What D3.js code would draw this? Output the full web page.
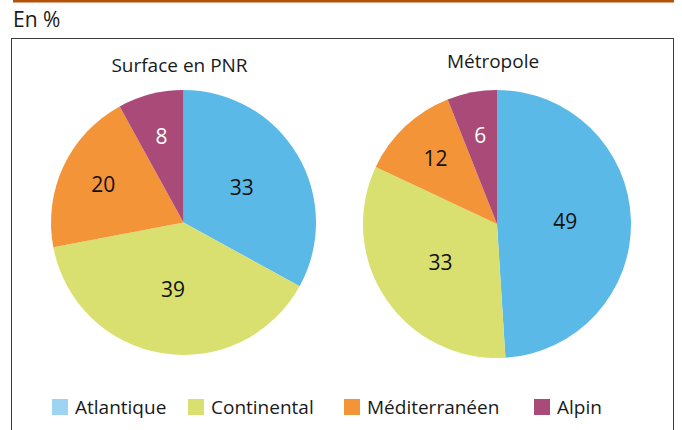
<!DOCTYPE html>
<html>
<head>
<meta charset="utf-8">
<script src="https://cdn.jsdelivr.net/npm/d3@7"></script>
<style>
  body { margin: 0; background: #fff; }
  svg { display: block; font-family: "Open Sans", "Noto Sans", sans-serif; }
</style>
</head>
<body>
<svg id="chart" width="682" height="430"></svg>
<script>
var zones = ["Atlantique", "Continental", "Méditerranéen", "Alpin"],
    pieTitles = ["Surface en PNR", "Métropole"],
    surfacePNR = [33, 39, 20, 8],
    metropole = [49, 33, 12, 6];

var sliceColors = ["#5bb9e8", "#d9e070", "#f39439", "#a94a78"],
    legendColors = ["#9dd4f2", "#d9e070", "#f39439", "#a94a78"];

var svg = d3.select("#chart");

// bandeau du haut
svg.append("rect").attr("x", 13).attr("y", 0).attr("width", 661).attr("height", 2.5).attr("fill", "#b5520a");
svg.append("text").attr("x", 13).attr("y", 27).attr("font-size", 21).attr("fill", "#1a1a1a").text("En %");
svg.append("rect").attr("x", 11.5).attr("y", 38.5).attr("width", 662).attr("height", 400)
    .attr("fill", "none").attr("stroke", "#3c3c3c").attr("stroke-width", 1);

var pie = d3.pie().sort(null).value(function(d) { return d; });

var pies = [
  {title: pieTitles[0], values: surfacePNR, cx: 183.5, cy: 222.5, r: 132.5, ty: 72},
  {title: pieTitles[1], values: metropole, cx: 497, cy: 224, r: 134, ty: 68}
];

pies.forEach(function(p) {
  var g = svg.append("g").attr("transform", "translate(" + p.cx + "," + p.cy + ")");
  var arc = d3.arc().innerRadius(0).outerRadius(p.r);
  var arcs = pie(p.values);

  g.selectAll("path").data(arcs).enter().append("path")
      .attr("d", arc)
      .attr("fill", function(d, i) { return sliceColors[i]; });

  g.selectAll("text.val").data(arcs).enter().append("text")
      .attr("class", "val")
      .attr("transform", function(d) {
        var lr = d.value >= 25 ? p.r * 0.51 : p.r * 0.67;
        var c = d3.arc().innerRadius(lr).outerRadius(lr).centroid(d);
        return "translate(" + c + ")";
      })
      .attr("text-anchor", "middle")
      .attr("dy", "0.35em")
      .attr("font-size", 21)
      .attr("fill", function(d, i) { return i === 3 ? "#fff" : "#111"; })
      .text(function(d) { return d.value; });

  svg.append("text")
      .attr("x", p.cx - 4).attr("y", p.ty)
      .attr("text-anchor", "middle")
      .attr("font-size", 19)
      .attr("fill", "#1a1a1a")
      .text(p.title);
});

// légende
var legendX = [52, 188, 344, 534];
var leg = svg.selectAll("g.leg").data(zones).enter().append("g")
    .attr("class", "leg")
    .attr("transform", function(d, i) { return "translate(" + legendX[i] + ",399)"; });
leg.append("rect").attr("width", 16).attr("height", 16)
    .attr("fill", function(d, i) { return legendColors[i]; });
leg.append("text").attr("x", 23).attr("y", 15).attr("font-size", 19).attr("fill", "#1a1a1a")
    .text(function(d) { return d; });
</script>
</body>
</html>
